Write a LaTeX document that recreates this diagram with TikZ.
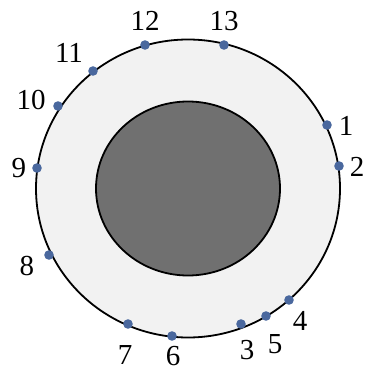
\documentclass[tikz,border=0pt]{standalone}
\usepackage{fontspec}
\setmainfont{Liberation Serif}
\definecolor{ringgray}{RGB}{242,242,242}
\definecolor{coregray}{RGB}{112,112,112}
\definecolor{dotblue}{RGB}{74,104,158}
\begin{document}
\begin{tikzpicture}[x=1pt,y=-1pt,
  dot/.style={fill=dotblue},
  num/.style={font=\fontsize{29}{33}\selectfont,inner sep=0pt}]
  \useasboundingbox (0,0) rectangle (366,374);

  % rings
  \coordinate (C) at (188,188.5);
  \filldraw[fill=ringgray,line width=1.8pt] (C) ellipse [x radius=152pt,y radius=149pt];
  \filldraw[fill=coregray,line width=1.8pt] (C) ellipse [x radius=92pt,y radius=87pt];

  % points on the outer ring
  \coordinate (P1) at (327,125);
  \coordinate (P2) at (339,166);
  \coordinate (P3) at (241,324);
  \coordinate (P4) at (289,300);
  \coordinate (P5) at (266,316);
  \coordinate (P6) at (172,336);
  \coordinate (P7) at (128,324);
  \coordinate (P8) at (49,255);
  \coordinate (P9) at (37,168);
  \coordinate (P10) at (58,106);
  \coordinate (P11) at (93,71);
  \coordinate (P12) at (145,45);
  \coordinate (P13) at (224,45);
  \foreach \i in {1,...,13}
    \fill[dot] (P\i) circle (4.8pt);

  % labels
  \node[num] (L1) at (346,126) {1};
  \node[num] (L2) at (357,167) {2};
  \node[num] (L3) at (247,350) {3};
  \node[num] (L4) at (300,321) {4};
  \node[num] (L5) at (275,344) {5};
  \node[num] (L6) at (173,356) {6};
  \node[num] (L7) at (125,355) {7};
  \node[num] (L8) at (27,266) {8};
  \node[num] (L9) at (19,168) {9};
  \node[num] (L10) at (31,100) {10};
  \node[num] (L11) at (69,53) {11};
  \node[num] (L12) at (145,21) {12};
  \node[num] (L13) at (224,21) {13};

\end{tikzpicture}
\end{document}
